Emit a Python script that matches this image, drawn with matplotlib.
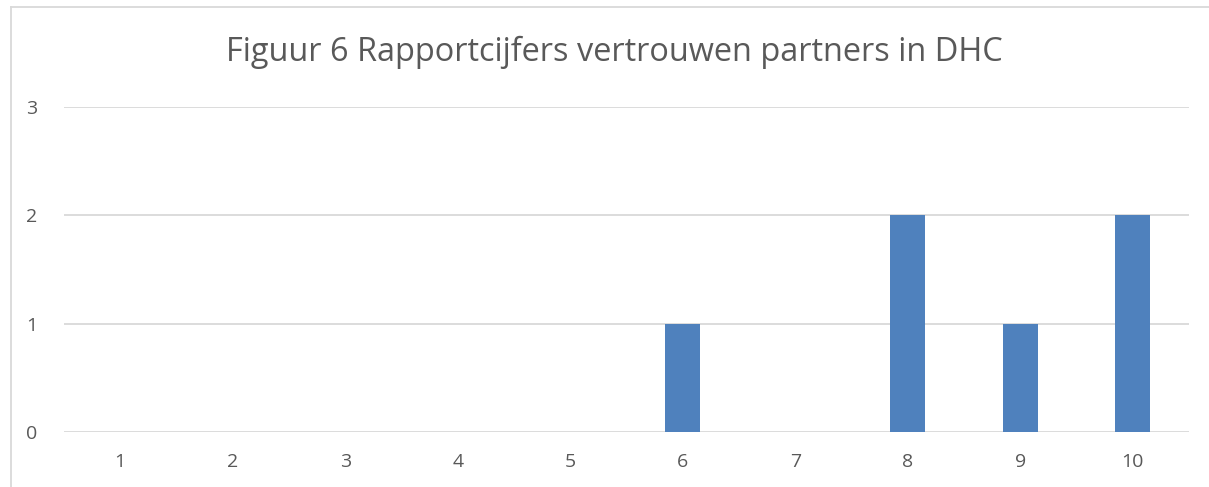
import matplotlib.pyplot as plt
import numpy as np
from matplotlib.lines import Line2D

categories = ['1', '2', '3', '4', '5', '6', '7', '8', '9', '10']
values = [0, 0, 0, 0, 0, 1, 0, 2, 1, 2]
yticks = [0, 1, 2, 3]
title = 'Figuur 6 Rapportcijfers vertrouwen partners in DHC'

plt.rcParams['font.family'] = ['Open Sans', 'DejaVu Sans']
grey = '#595959'

fig = plt.figure(figsize=(12.09, 4.87), dpi=100)
ax = fig.add_axes([64 / 1209, 1 - 432 / 487, 1125 / 1209, 325 / 487])

x = np.arange(len(categories))
ax.bar(x, values, width=0.31, color='#4F81BD', zorder=3)

ax.set_xlim(-0.5, len(categories) - 0.5)
ax.set_ylim(0, 3)
ax.set_yticks(yticks)
ax.set_xticks(x)
ax.set_xticklabels(categories)
ax.grid(axis='y', color='#D9D9D9', linewidth=1.3, zorder=0)
for s in ax.spines.values():
    s.set_visible(False)
ax.tick_params(length=0, labelsize=14, labelcolor=grey)
ax.tick_params(axis='y', pad=19)
ax.tick_params(axis='x', pad=15)

fig.text(614 / 1209, 1 - 52 / 487, title, ha='center', va='center',
         fontsize=23.4, color=grey)

# outer chart border (top and left visible in crop)
fig.add_artist(Line2D([11 / 1209, 11 / 1209], [0, 1 - 7 / 487], color='#D9D9D9', lw=1.3))
fig.add_artist(Line2D([11 / 1209, 1], [1 - 7 / 487, 1 - 7 / 487], color='#D9D9D9', lw=1.3))

fig.savefig('out.png', dpi=100)
